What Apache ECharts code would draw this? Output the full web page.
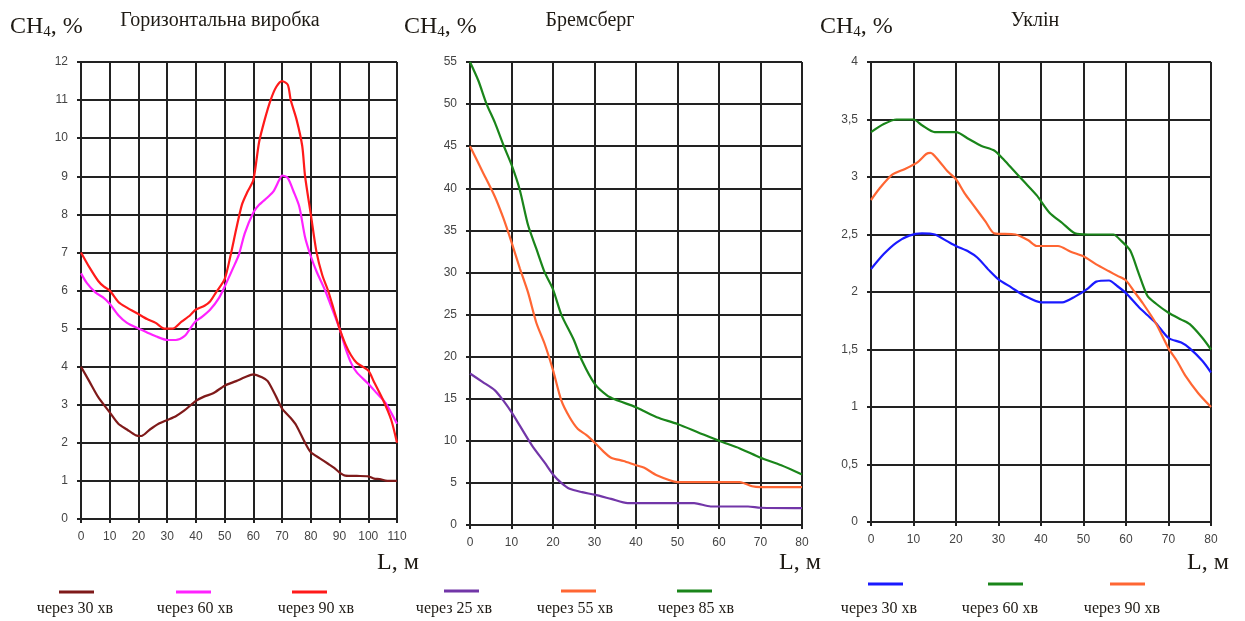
<!DOCTYPE html>
<html>
<head>
<meta charset="utf-8">
<script src="https://cdn.jsdelivr.net/npm/echarts@6/dist/echarts.min.js"></script>
<style>
  html, body { margin: 0; padding: 0; background: #fff; }
  #main { width: 1245px; height: 621px; }
</style>
</head>
<body>
<div id="main"></div>
<script>
// Горизонтальна виробка
var gor30 = [[0,4.0],[3,3.6],[6,3.2],[10,2.8],[13,2.5],[16,2.35],[19,2.2],[21,2.18],[24,2.35],[27,2.5],[30,2.6],[33,2.7],[36,2.85],[40,3.1],[43,3.22],[46,3.3],[50,3.5],[54,3.62],[57,3.72],[60,3.8],[63,3.72],[65,3.62],[68,3.2],[70,2.9],[73,2.65],[75,2.45],[78,2.0],[80,1.75],[83,1.6],[86,1.45],[88,1.35],[90,1.22],[92,1.14],[96,1.13],[100,1.12],[102,1.06],[104,1.05],[106,1.01],[110,1.0]];
var gor60 = [[0,6.45],[2,6.2],[5,5.95],[8,5.8],[10,5.65],[13,5.35],[16,5.15],[20,5.0],[23,4.9],[26,4.8],[30,4.7],[33,4.7],[36,4.8],[38,5.0],[40,5.2],[42,5.3],[45,5.5],[48,5.8],[50,6.1],[53,6.6],[55,6.95],[57,7.5],[60,8.05],[62,8.25],[65,8.45],[67,8.6],[69,8.9],[70,9.02],[72,8.95],[74,8.6],[76,8.2],[78,7.4],[80,6.9],[82,6.5],[85,6.0],[87,5.6],[90,5.0],[92,4.5],[94,4.1],[96,3.85],[100,3.55],[103,3.3],[106,3.05],[110,2.5]];
var gor90 = [[0,7.0],[3,6.6],[6,6.25],[8,6.1],[10,6.0],[13,5.7],[16,5.55],[20,5.38],[23,5.25],[26,5.15],[29,5.0],[32,5.0],[35,5.18],[38,5.35],[40,5.5],[43,5.6],[45,5.72],[47,5.95],[50,6.3],[52,6.9],[54,7.6],[56,8.25],[58,8.6],[60,8.9],[62,9.9],[64,10.5],[66,11.0],[68,11.35],[70,11.5],[72,11.4],[73,11.0],[75,10.5],[77,9.8],[78,9.0],[80,8.0],[82,7.0],[84,6.4],[86,6.0],[88,5.5],[90,5.0],[92,4.6],[94,4.3],[96,4.1],[100,3.9],[102,3.6],[105,3.15],[108,2.6],[110,2.0]];

// Бремсберг
var brem25 = [[0,18.0],[3,17.0],[6,16.0],[8,14.8],[10,13.4],[12,11.8],[15,9.4],[18,7.4],[20,6.0],[22,5.0],[24,4.3],[27,3.9],[30,3.6],[34,3.1],[38,2.6],[45,2.6],[54,2.6],[58,2.2],[67,2.2],[70,2.05],[80,2.0]];
var brem55 = [[0,45.0],[3,42.0],[6,39.0],[8,36.5],[10,33.6],[12,30.5],[14,27.6],[16,24.0],[18,21.5],[20,18.4],[22,14.8],[24,12.8],[26,11.4],[28,10.7],[30,9.8],[32,8.8],[34,8.0],[37,7.6],[40,7.1],[42,6.8],[45,5.9],[50,5.1],[58,5.1],[65,5.1],[68,4.6],[70,4.5],[80,4.5]];
var brem85 = [[0,55.0],[2,52.8],[4,50.0],[6,47.8],[8,45.2],[10,42.8],[12,39.8],[14,35.6],[16,32.8],[18,30.0],[20,28.0],[22,25.0],[25,22.0],[27,19.5],[30,16.8],[33,15.4],[35,14.9],[40,14.0],[42,13.5],[45,12.8],[50,12.0],[55,11.0],[60,10.0],[65,9.1],[70,8.0],[75,7.1],[80,6.0]];

// Уклін
var ukl30 = [[0,2.2],[3,2.33],[6,2.43],[9,2.49],[12,2.51],[15,2.5],[18,2.44],[20,2.4],[23,2.35],[25,2.3],[28,2.18],[30,2.11],[33,2.04],[36,1.97],[40,1.91],[45,1.91],[48,1.96],[51,2.03],[53,2.09],[56,2.1],[58,2.05],[60,1.99],[63,1.87],[65,1.8],[67,1.73],[70,1.6],[73,1.56],[75,1.51],[78,1.4],[80,1.3]];
var ukl60 = [[0,3.39],[3,3.46],[6,3.5],[10,3.5],[12,3.45],[15,3.39],[20,3.39],[23,3.33],[26,3.27],[29,3.23],[31,3.16],[33,3.08],[36,2.96],[39,2.84],[42,2.69],[45,2.6],[48,2.51],[51,2.5],[57,2.5],[59,2.44],[61,2.36],[63,2.16],[65,1.97],[67,1.9],[70,1.82],[73,1.76],[75,1.72],[78,1.6],[80,1.5]];
var ukl90 = [[0,2.8],[2,2.9],[5,3.02],[8,3.07],[11,3.13],[13,3.2],[14,3.21],[16,3.14],[18,3.05],[20,2.98],[22,2.86],[24,2.76],[27,2.61],[29,2.51],[34,2.5],[37,2.45],[39,2.4],[44,2.4],[47,2.35],[50,2.31],[53,2.24],[56,2.18],[58,2.14],[60,2.1],[62,2.0],[64,1.9],[67,1.73],[70,1.51],[72,1.4],[74,1.27],[77,1.12],[80,1.0]];

var gorNames = ['через 30 хв', 'через 60 хв', 'через 90 хв'];
var bremNames = ['через 25 хв', 'через 55 хв', 'через 85 хв'];
var uklNames = ['через 30 хв', 'через 60 хв', 'через 90 хв'];

var gorColors = ['#7f1a1a', '#ff22ff', '#ff1a1a'];
var bremColors = ['#7236a8', '#ff6633', '#1a851a'];
var uklColors = ['#1a1aff', '#1a851a', '#ff6633'];

var titles = ['Горизонтальна виробка', 'Бремсберг', 'Уклін'];

var grids = [
    {left: 81, top: 62, width: 316, height: 457},
    {left: 470, top: 62, width: 332, height: 463},
    {left: 871, top: 62, width: 340, height: 460}
];

var lineDark = {color: '#222', width: 2};
var labelStyle = {color: '#444', fontSize: 12, fontFamily: 'Liberation Sans, Arial'};

function xAxisFor(i, max) {
    return {
        type: 'value', gridIndex: i, min: 0, max: max, interval: 10,
        axisLine: {show: true, lineStyle: lineDark},
        axisTick: {show: true, length: 4, lineStyle: lineDark},
        axisLabel: Object.assign({margin: 12}, labelStyle),
        splitLine: {show: true, lineStyle: lineDark}
    };
}
function yAxisFor(i, max, step, comma) {
    return {
        type: 'value', gridIndex: i, min: 0, max: max, interval: step,
        axisLine: {show: true, lineStyle: lineDark},
        axisTick: {show: true, length: 4, lineStyle: lineDark},
        axisLabel: Object.assign({
            margin: 13,
            formatter: function (v) { return comma ? String(v).replace('.', ',') : String(v); }
        }, labelStyle),
        splitLine: {show: true, lineStyle: lineDark}
    };
}

function lineSeries(name, data, color, i) {
    return {
        name: name, type: 'line', xAxisIndex: i, yAxisIndex: i,
        data: data, showSymbol: false, smooth: 0.25,
        lineStyle: {color: color, width: 2.2},
        itemStyle: {color: color},
        animation: false
    };
}

// подписи "CH4, %", "L, м" и легенды
var chLeft = [10, 404, 820];
var lLeft = [377, 779, 1187];
var legendLines = [[59, 176, 292], [444, 561, 677], [868, 988, 1110]];
var legendText = [[75, 195, 316], [454, 575, 696], [879, 1000, 1122]];
var legendY = [592, 591, 584];
var titleX = [220, 590, 1035];

var graphics = [];
var allNames = [gorNames, bremNames, uklNames];
var allColors = [gorColors, bremColors, uklColors];
for (var k = 0; k < 3; k++) {
    graphics.push({
        type: 'text', left: chLeft[k], top: 15,
        style: {
            text: '{a|CH}{s|4}{a|, %}',
            rich: {
                a: {fontFamily: 'Liberation Serif', fontSize: 24, fill: '#1e1a14'},
                s: {fontFamily: 'Liberation Serif', fontSize: 15, fill: '#1e1a14', padding: [11, 0, 0, 0]}
            }
        }
    });
    graphics.push({
        type: 'text', x: titleX[k], y: 21,
        style: {text: titles[k], fontFamily: 'Liberation Serif', fontSize: 20, fill: '#1e1a14', align: 'center', verticalAlign: 'middle'}
    });
    graphics.push({
        type: 'text', left: lLeft[k], top: 551,
        style: {text: 'L, м', fontFamily: 'Liberation Serif', fontSize: 24, fill: '#1e1a14'}
    });
    for (var j = 0; j < 3; j++) {
        graphics.push({
            type: 'line',
            shape: {x1: legendLines[k][j], y1: legendY[k], x2: legendLines[k][j] + 35, y2: legendY[k]},
            style: {stroke: allColors[k][j], lineWidth: 3}
        });
        graphics.push({
            type: 'text', x: legendText[k][j], y: 609,
            style: {text: allNames[k][j], fontFamily: 'Liberation Serif', fontSize: 16, fill: '#1e1a14', align: 'center', verticalAlign: 'middle'}
        });
    }
}

var myChart = echarts.init(document.getElementById('main'));
myChart.setOption({
    backgroundColor: '#fff',
    animation: false,
    grid: grids,
    xAxis: [xAxisFor(0, 110), xAxisFor(1, 80), xAxisFor(2, 80)],
    yAxis: [yAxisFor(0, 12, 1, false), yAxisFor(1, 55, 5, false), yAxisFor(2, 4, 0.5, true)],
    series: [
        lineSeries(gorNames[0], gor30, gorColors[0], 0),
        lineSeries(gorNames[1], gor60, gorColors[1], 0),
        lineSeries(gorNames[2], gor90, gorColors[2], 0),
        lineSeries(bremNames[0], brem25, bremColors[0], 1),
        lineSeries(bremNames[1], brem55, bremColors[1], 1),
        lineSeries(bremNames[2], brem85, bremColors[2], 1),
        lineSeries(uklNames[0], ukl30, uklColors[0], 2),
        lineSeries(uklNames[1], ukl60, uklColors[1], 2),
        lineSeries(uklNames[2], ukl90, uklColors[2], 2)
    ],
    graphic: graphics
});
</script>
</body>
</html>
